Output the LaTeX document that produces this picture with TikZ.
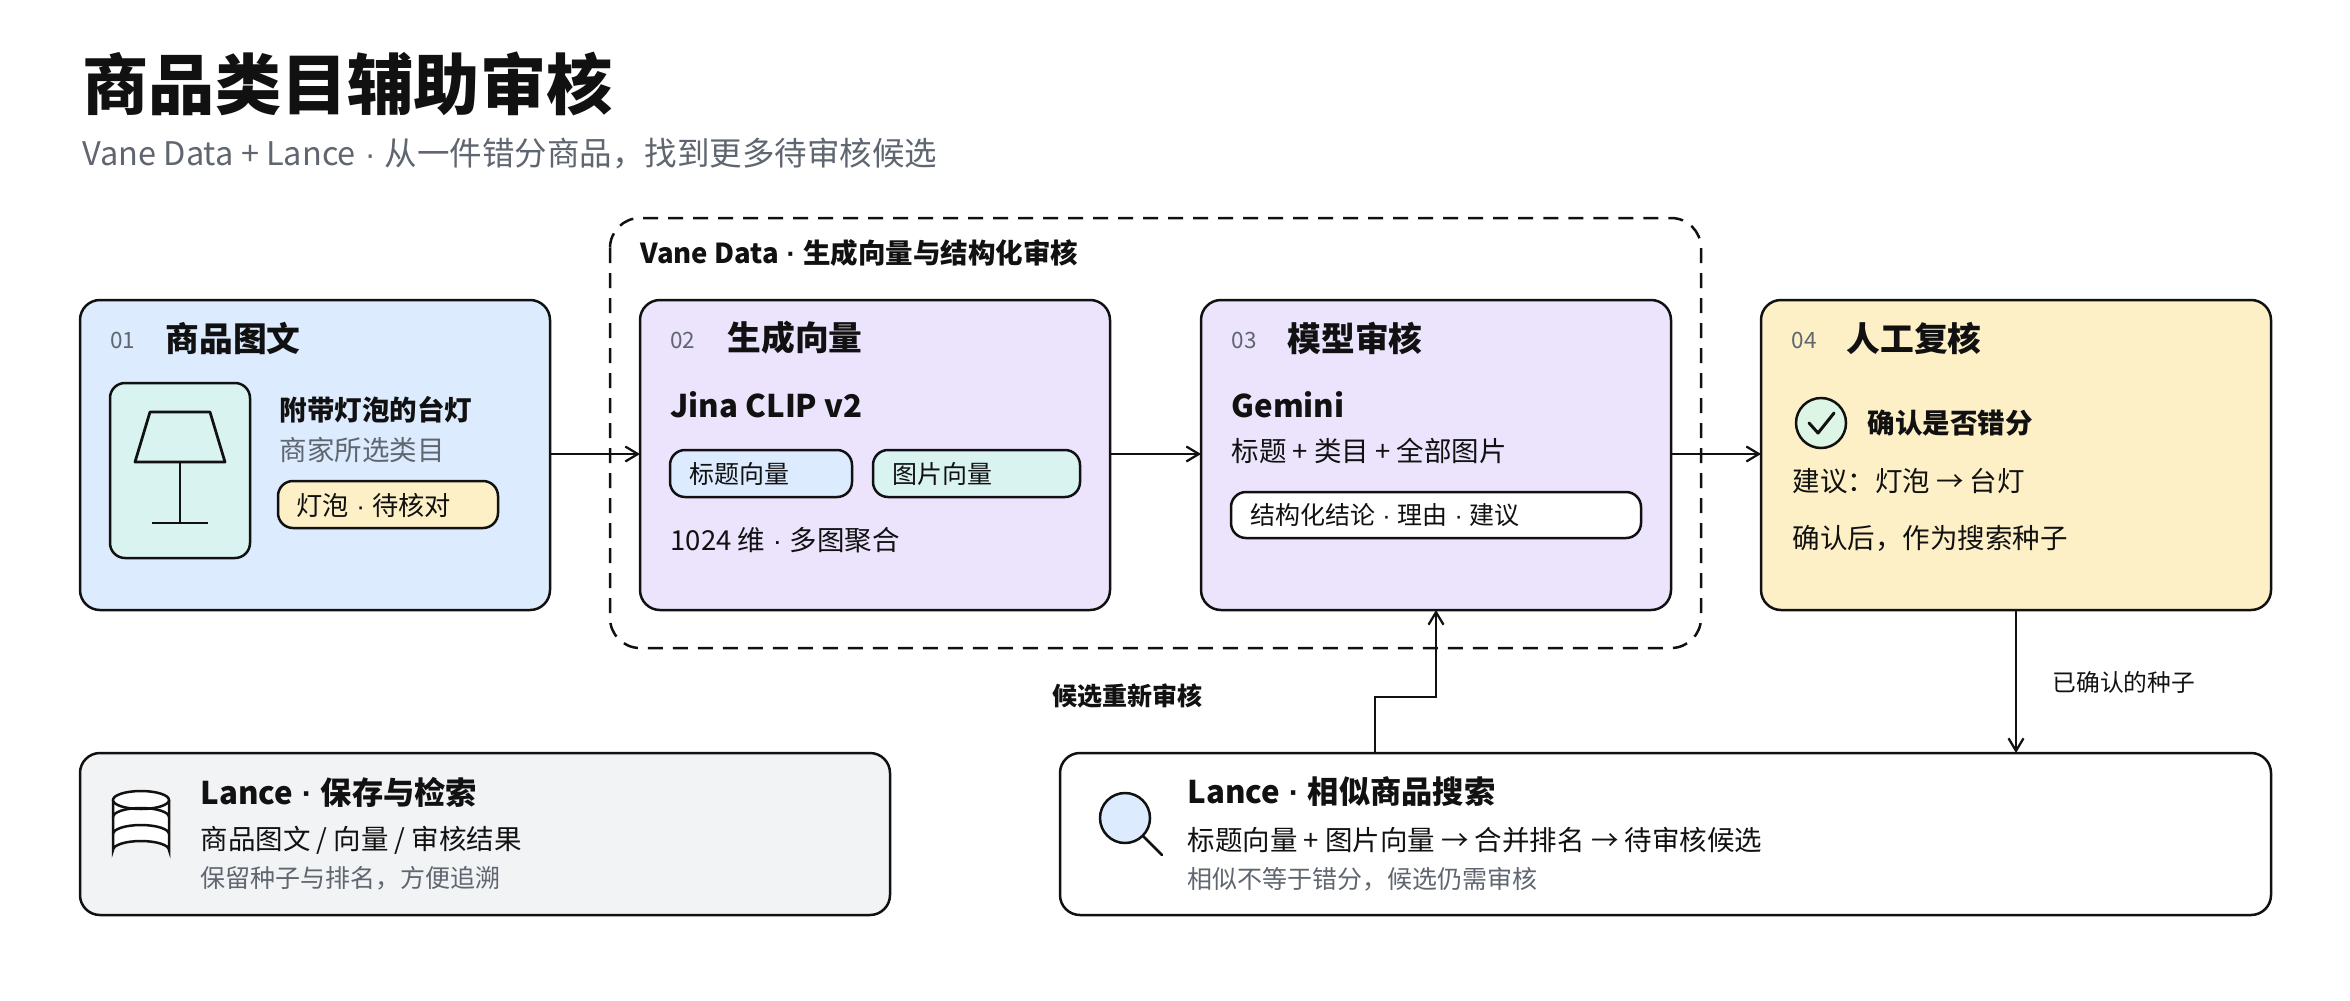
\documentclass[tikz,border=0pt]{standalone}
\usepackage{fontspec}
\setmainfont{Noto Sans CJK SC}
\newfontfamily\lat{Liberation Sans}
\newcommand\md{{\lat\ ·\ }}
\usetikzlibrary{arrows.meta}
\definecolor{ink}{HTML}{111111}
\definecolor{gr}{HTML}{5F6670}
\definecolor{cblue}{HTML}{DCEBFD}
\definecolor{cpur}{HTML}{ECE4FD}
\definecolor{cyel}{HTML}{FDF0C6}
\definecolor{cgray}{HTML}{F2F3F5}
\definecolor{cmint}{HTML}{D8F3F0}
\definecolor{cgreen}{HTML}{DDF5E4}
\begin{document}
\begin{tikzpicture}[x=0.4pt,y=-0.4pt,
 box/.style={draw=ink,line width=1pt,rounded corners=8pt},
 pill/.style={draw=ink,line width=1pt,rounded corners=6pt},
 t/.style={anchor=west,inner sep=0pt,text=ink},
 head/.style={t,font=\fontsize{13.5}{15}\selectfont\bfseries},
 num/.style={t,text=gr,font=\fontsize{9}{10}\selectfont},
 body/.style={t,font=\fontsize{11}{12}\selectfont},
 bbody/.style={t,font=\fontsize{11}{12}\selectfont\bfseries},
 small/.style={t,text=gr,font=\fontsize{10}{11}\selectfont},
 arr/.style={draw=ink,line width=0.9pt,-{Straight Barb[length=5pt,width=6pt]}}]
\useasboundingbox[fill=white] (0,0) rectangle (2350,1000);
\node[t,font=\fontsize{26.5}{30}\selectfont\bfseries] (title) at (82,84) {商品类目辅助审核};
\node[t,text=gr,font=\fontsize{13}{14}\selectfont] (sub) at (82,153) {Vane Data + Lance\md 从一件错分商品，找到更多待审核候选};
% dashed group
\draw[ink,line width=1pt,dash pattern=on 6pt off 4pt,rounded corners=12pt] (610,218) rectangle (1701,648);
\node[t,font=\fontsize{11}{12}\selectfont\bfseries] (glab) at (640,253) {Vane Data\md 生成向量与结构化审核};
% boxes
\draw[box,fill=cblue] (80,300) rectangle (550,610);
\coordinate (b1e) at (550,454);
\draw[box,fill=cpur] (640,300) rectangle (1110,610);
\coordinate (b2w) at (640,454); \coordinate (b2e) at (1110,454);
\draw[box,fill=cpur] (1201,300) rectangle (1671,610);
\coordinate (b3w) at (1201,454); \coordinate (b3e) at (1671,454); \coordinate (b3s) at (1436,610);
\draw[box,fill=cyel] (1761,300) rectangle (2271,610);
\coordinate (b4w) at (1761,454); \coordinate (b4s) at (2016,610);
\draw[box,fill=cgray] (80,753) rectangle (890,915);
\draw[box,fill=white] (1060,753) rectangle (2271,915);
\coordinate (b6n) at (2016,753); \coordinate (b6m) at (1375,753);
% arrows
\draw[arr] (b1e) -- (b2w);
\draw[arr] (b2e) -- (b3w);
\draw[arr] (b3e) -- (b4w);
\draw[arr] (b4s) -- (b6n);
\draw[arr] (b6m) -- (1375,697) -- (1436,697) -- (b3s);
\node[t,font=\fontsize{9.5}{11}\selectfont] (l1) at (2052,682) {已确认的种子};
\node[t,font=\fontsize{10}{11}\selectfont\bfseries] (l2) at (1052,696) {候选重新审核};
% box1
\node[num] (n1) at (110,340) {01};
\node[head] (h1) at (165,338) {商品图文};
\draw[box,fill=cmint,rounded corners=6pt] (110,383) rectangle (250,558);
\draw[ink,line width=1.1pt,line join=round] (150,412) -- (210,412) -- (225,462) -- (135,462) -- cycle;
\draw[ink,line width=1.1pt] (180,462) -- (180,523) (152,523) -- (208,523);
\node[bbody] (p1) at (279,410) {附带灯泡的台灯};
\node[t,text=gr,font=\fontsize{11}{12}\selectfont] (p2) at (279,450) {商家所选类目};
\draw[pill,fill=cyel] (278,481) rectangle (498,528);
\node[t,font=\fontsize{10.5}{12}\selectfont] (p3) at (296,505) {灯泡\md 待核对};
% box2
\node[num] (n2) at (670,340) {02};
\node[head] (h2) at (727,338) {生成向量};
\node[t,font=\fontsize{12.5}{14}\selectfont\bfseries] (j) at (670,405) {Jina CLIP v2};
\draw[pill,fill=cblue] (670,450) rectangle (852,497);
\node[t,font=\fontsize{10}{11}\selectfont] (q1) at (689,474) {标题向量};
\draw[pill,fill=cmint] (873,450) rectangle (1080,497);
\node[t,font=\fontsize{10}{11}\selectfont] (q2) at (892,474) {图片向量};
\node[body] (q3) at (670,540) {1024 维\md 多图聚合};
% box3
\node[num] (n3) at (1231,340) {03};
\node[head] (h3) at (1287,338) {模型审核};
\node[t,font=\fontsize{12.5}{14}\selectfont\bfseries] (g) at (1231,405) {Gemini};
\node[body] (g2) at (1231,451) {标题 + 类目 + 全部图片};
\draw[pill,fill=white] (1231,492) rectangle (1641,538);
\node[t,font=\fontsize{10}{11}\selectfont] (g3) at (1250,515) {结构化结论\md 理由\md 建议};
% box4
\node[num] (n4) at (1791,340) {04};
\node[head] (h4) at (1846,338) {人工复核};
\draw[ink,line width=1pt,fill=cgreen] (1821,423) circle (25);
\draw[ink,line width=1.2pt,line cap=round,line join=round] (1809,423) -- (1818,433) -- (1834,413);
\node[bbody] (c1) at (1867,423) {确认是否错分};
\node[body] (c2) at (1792,481) {建议：灯泡 → 台灯};
\node[body] (c3) at (1792,538) {确认后，作为搜索种子};
% box5
\draw[ink,line width=1pt,fill=white] (113,800) -- (113,850) arc[start angle=180,end angle=360,x radius=28,y radius=9] -- (169,800);
\draw[ink,line width=1pt,fill=white] (141,800) ellipse[x radius=28,y radius=9];
\draw[ink,line width=1pt] (113,817) arc[start angle=180,end angle=360,x radius=28,y radius=9];
\draw[ink,line width=1pt] (113,834) arc[start angle=180,end angle=360,x radius=28,y radius=9];
\node[t,font=\fontsize{12.5}{14}\selectfont\bfseries] (s1) at (200,792) {Lance\md 保存与检索};
\node[body] (s2) at (200,840) {商品图文 / 向量 / 审核结果};
\node[small] (s3) at (200,878) {保留种子与排名，方便追溯};
% box6
\draw[ink,line width=1.1pt,line cap=round] (1143,836) -- (1162,855);
\draw[ink,line width=1pt,fill=cblue] (1125,818) circle (25);
\node[t,font=\fontsize{12.5}{14}\selectfont\bfseries] (r1) at (1187,792) {Lance\md 相似商品搜索};
\node[body] (r2) at (1187,840) {标题向量 + 图片向量 → 合并排名 → 待审核候选};
\node[small] (r3) at (1187,879) {相似不等于错分，候选仍需审核};
\end{tikzpicture}
\end{document}
